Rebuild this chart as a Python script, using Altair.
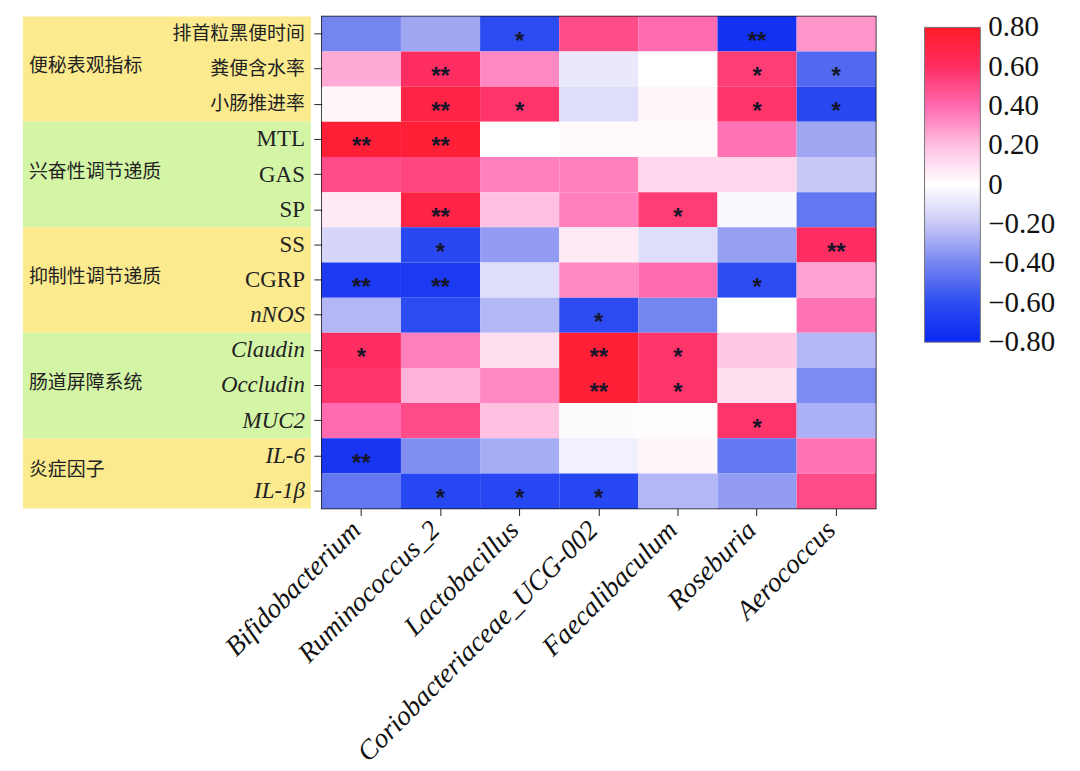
import altair as alt
import pandas as pd

cols = ["Bifidobacterium", "Ruminococcus_2", "Lactobacillus",
        "Coriobacteriaceae_UCG-002", "Faecalibaculum", "Roseburia", "Aerococcus"]
rows = ["排首粒黑便时间", "粪便含水率", "小肠推进率", "MTL", "GAS", "SP", "SS",
        "CGRP", "nNOS", "Claudin", "Occludin", "MUC2", "IL-6", "IL-1β"]
row_kind = ["cjk", "cjk", "cjk", "roman", "roman", "roman", "roman",
            "roman", "italic", "italic", "italic", "italic", "italic", "italic"]

vals = [
    [-0.40, -0.30, -0.60, 0.50, 0.40, -0.75, 0.30],
    [0.25, 0.60, 0.33, -0.08, 0.00, 0.55, -0.50],
    [0.03, 0.70, 0.58, -0.12, 0.03, 0.58, -0.62],
    [0.75, 0.75, 0.00, 0.02, 0.02, 0.38, -0.30],
    [0.50, 0.52, 0.35, 0.35, 0.13, 0.13, -0.20],
    [0.07, 0.70, 0.20, 0.35, 0.55, -0.02, -0.45],
    [-0.15, -0.62, -0.33, 0.07, -0.12, -0.32, 0.60],
    [-0.70, -0.70, -0.12, 0.33, 0.40, -0.60, 0.27],
    [-0.25, -0.60, -0.25, -0.60, -0.40, 0.00, 0.38],
    [0.60, 0.35, 0.10, 0.75, 0.58, 0.17, -0.25],
    [0.58, 0.23, 0.33, 0.75, 0.58, 0.10, -0.38],
    [0.40, 0.50, 0.20, -0.01, 0.01, 0.58, -0.27],
    [-0.72, -0.37, -0.28, -0.05, 0.03, -0.45, 0.38],
    [-0.45, -0.63, -0.63, -0.63, -0.25, -0.33, 0.50],
]
sig = [
    ["", "", "*", "", "", "**", ""],
    ["", "**", "", "", "", "*", "*"],
    ["", "**", "*", "", "", "*", "*"],
    ["**", "**", "", "", "", "", ""],
    ["", "", "", "", "", "", ""],
    ["", "**", "", "", "*", "", ""],
    ["", "*", "", "", "", "", "**"],
    ["**", "**", "", "", "", "*", ""],
    ["", "", "", "*", "", "", ""],
    ["*", "", "", "**", "*", "", ""],
    ["", "", "", "**", "*", "", ""],
    ["", "", "", "", "", "*", ""],
    ["**", "", "", "", "", "", ""],
    ["", "*", "*", "*", "", "", ""],
]

group_names = ["便秘表观指标", "兴奋性调节递质", "抑制性调节递质", "肠道屏障系统", "炎症因子"]
group_start = [0, 3, 6, 9, 12]
group_end = [3, 6, 9, 12, 14]
group_fill = ["#FBEA8E", "#D4F5A6", "#FBEA8E", "#D4F5A6", "#FBEA8E"]

legend_values = [-0.8, -0.6, -0.4, -0.2, 0.0, 0.2, 0.4, 0.6, 0.8]
# ends a hair beyond ±0.80 so the end labels stay centred on their positions
color_domain = [-0.8005, -0.6, -0.4, -0.2, 0.0, 0.2, 0.4, 0.6, 0.8005]
color_range = ["#0A28F2", "#2C4CF2", "#7585F0", "#C8C8F6", "#FFFFFF",
               "#FFC0E2", "#FF6AB0", "#FF2E62", "#FF1A28"]

cells = pd.DataFrame([
    {"row": r, "col": c, "r": vals[i][j], "sig": sig[i][j]}
    for i, r in enumerate(rows) for j, c in enumerate(cols)
])
groups = pd.DataFrame({"name": group_names, "start": group_start,
                       "end": group_end, "fill": group_fill})
groups["mid"] = (groups["start"] + groups["end"]) / 2
labels = pd.DataFrame({"label": rows, "kind": row_kind,
                       "pos": [i + 0.5 for i in range(len(rows))]})

W, H, LW = 556, 494, 289
SERIF = "Liberation Serif, Times New Roman, serif"
CJK = "Noto Sans CJK SC"

# ---------------- left label panel ----------------
yq = alt.Scale(domain=[0, len(rows)], reverse=True, nice=False, zero=False)

bg = alt.Chart(groups).mark_rect().encode(
    x=alt.value(0), x2=alt.value(LW),
    y=alt.Y("start:Q", scale=yq, axis=None), y2="end:Q",
    fill=alt.Fill("fill:N", scale=None),
)
gtext = alt.Chart(groups).mark_text(align="left", baseline="middle", font=CJK,
                                    fontSize=19, color="#222", dy=-3).encode(
    x=alt.value(6), y=alt.Y("mid:Q", scale=yq, axis=None), text="name:N")
rtext_cjk = alt.Chart(labels).transform_filter("datum.kind == 'cjk'").mark_text(
    align="right", baseline="middle", font=CJK, fontSize=19, color="#222").encode(
    x=alt.value(LW - 6), y=alt.Y("pos:Q", scale=yq, axis=None), text="label:N")
rtext_rom = alt.Chart(labels).transform_filter("datum.kind == 'roman'").mark_text(
    align="right", baseline="middle", font=SERIF, fontSize=23, color="#222").encode(
    x=alt.value(LW - 6), y=alt.Y("pos:Q", scale=yq, axis=None), text="label:N")
rtext_it = alt.Chart(labels).transform_filter("datum.kind == 'italic'").mark_text(
    align="right", baseline="middle", font=SERIF, fontSize=23, fontStyle="italic",
    color="#222").encode(
    x=alt.value(LW - 6), y=alt.Y("pos:Q", scale=yq, axis=None), text="label:N")

left = alt.layer(bg, gtext, rtext_cjk, rtext_rom, rtext_it).properties(
    width=LW, height=H, view=alt.ViewBackground(stroke="transparent"))

# ---------------- heatmap ----------------
xenc = alt.X("col:N", sort=cols, scale=alt.Scale(paddingInner=0, paddingOuter=0),
             axis=alt.Axis(title=None, labelAngle=-45, labelAlign="right",
                           labelBaseline="bottom", labelFont=SERIF,
                           labelFontStyle="italic",
                           labelFontSize=27.5, labelColor="#111", tickSize=7,
                           tickColor="#222", domain=False, labelPadding=20,
                           labelOffset=5, labelLimit=0))
yenc = alt.Y("row:N", sort=rows, scale=alt.Scale(paddingInner=0, paddingOuter=0),
             axis=alt.Axis(title=None, labels=False, tickSize=8, tickColor="#222",
                           domain=False))

heat = alt.Chart(cells).mark_rect().encode(
    x=xenc, y=yenc,
    color=alt.Color("r:Q",
                    scale=alt.Scale(domain=color_domain, range=color_range,
                                    interpolate="rgb"),
                    legend=alt.Legend(
                        title=None, orient="right", offset=37, padding=11,
                        direction="vertical",
                        gradientLength=316, gradientThickness=56,
                        gradientStrokeColor="#777", gradientStrokeWidth=1,
                        values=legend_values, labelOverlap=False,
                        labelExpr="abs(datum.value) < 0.001 ? '0' : replace(format(datum.value, '.2f'), '-', '\u2212')",
                        labelFont=SERIF, labelFontSize=29, labelColor="#111",
                        labelOffset=8)),
)
stars = alt.Chart(cells).mark_text(font="Liberation Sans", fontWeight="bold",
                                   fontSize=24, color="#15152a",
                                   baseline="middle", dy=8).encode(
    x=alt.X("col:N", sort=cols), y=alt.Y("row:N", sort=rows), text="sig:N")

heatmap = alt.layer(heat, stars).properties(width=W, height=H)

chart = alt.hconcat(left, heatmap, spacing=11, bounds="flush").properties(
    padding={"left": 14, "top": 6, "right": 5, "bottom": 5},
    background="white",
).configure_view(stroke="#111", strokeWidth=1.5)

chart.save("out.html", embed_options={"renderer": "svg", "actions": False})
